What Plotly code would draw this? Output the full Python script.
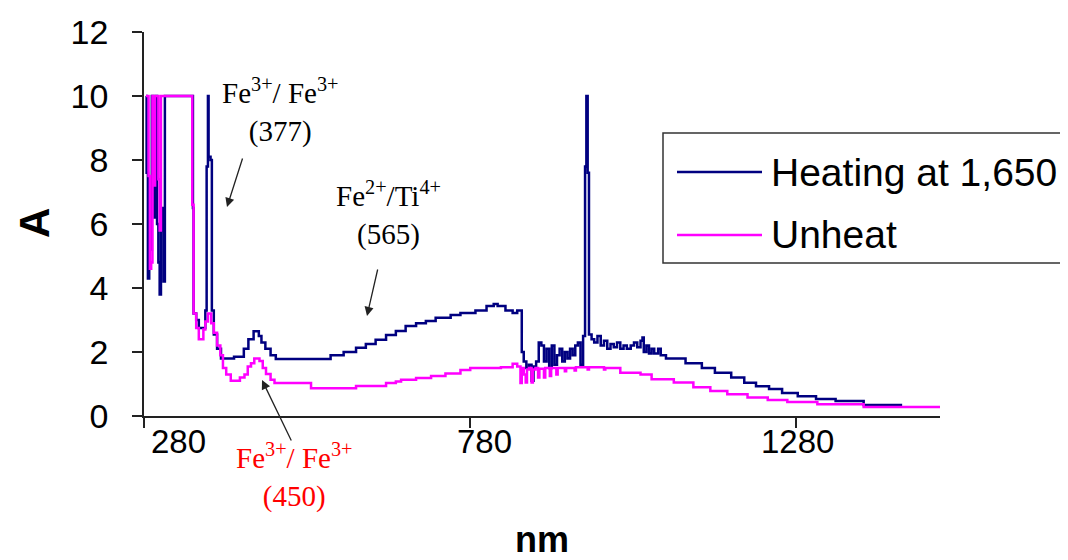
import plotly.graph_objects as go

# ---------------- data ----------------
heat_nm = [
    283, 284, 286, 288, 290, 292, 294, 296, 298, 300, 302, 304, 306, 308, 310, 312,
    355, 356, 360, 364, 374, 376, 378, 379, 382, 384, 387, 392, 398, 418, 433, 440,
    448, 456, 460, 466, 474, 482, 566, 586, 605, 620, 635, 651, 666, 681, 697, 712,
    727, 750, 765, 788, 805, 816, 822, 834, 845, 852, 859, 862, 866, 870, 874, 877,
    881, 885, 889, 893, 897, 901, 905, 909, 913, 917, 921, 925, 929, 933, 937, 941,
    945, 949, 953, 956, 958, 960, 962, 966, 970, 975, 980, 985, 990, 995, 1000, 1005,
    1010, 1015, 1020, 1026, 1031, 1036, 1041, 1044, 1046, 1050, 1054, 1058, 1062, 1068, 1072, 1080,
    1110, 1135, 1155, 1180, 1200, 1218, 1238, 1258, 1282, 1310, 1340, 1383, 1442]
heat_abs = [
    10, 7.6, 4.3, 7.0, 5.2, 10, 7.5, 6.2, 10, 6.0, 4.8, 3.8, 5.8, 6.5, 4.2, 10,
    6.5, 3.2, 3.0, 2.75, 3.3, 7.8, 10, 8.1, 8.0, 3.3, 2.55, 2.1, 1.8, 1.85, 2.1, 2.4,
    2.65, 2.5, 2.3, 2.1, 1.9, 1.78, 1.9, 2.0, 2.13, 2.25, 2.38, 2.53, 2.66, 2.81, 2.9, 2.97,
    3.07, 3.16, 3.22, 3.3, 3.44, 3.5, 3.44, 3.3, 3.22, 3.3, 2.0, 1.7, 1.5, 1.6, 1.1, 1.55,
    1.7, 2.3, 2.2, 1.7, 2.1, 1.5, 2.2, 1.6, 1.9, 2.1, 1.7, 2.0, 1.8, 2.1, 1.9, 2.2,
    2.3, 1.6, 2.5, 7.8, 10, 7.6, 2.55, 2.4, 2.3, 2.5, 2.2, 2.35, 2.1, 2.25, 2.15, 2.3,
    2.1, 2.2, 2.1, 2.2, 2.3, 2.15, 2.35, 2.45, 2.0, 2.2, 1.95, 2.1, 1.95, 2.1, 1.9, 1.8,
    1.65, 1.5, 1.35, 1.2, 1.04, 0.93, 0.84, 0.72, 0.62, 0.53, 0.47, 0.34, 0.34]

unheat_nm = [
    283, 287, 289, 291, 293, 295, 297, 302, 304, 306, 354, 356, 360, 364, 371, 374,
    378, 383, 387, 392, 397, 401, 406, 413, 427, 434, 439, 444, 449, 457, 462, 467,
    474, 480, 536, 605, 651, 666, 674, 697, 720, 742, 765, 780, 827, 845, 852, 857,
    859, 862, 865, 867, 870, 874, 876, 880, 884, 886, 893, 895, 902, 904, 912, 914,
    925, 927, 940, 942, 960, 962, 985, 987, 1010, 1041, 1058, 1092, 1122, 1148, 1174, 1205,
    1236, 1266, 1312, 1383, 1500]
unheat_abs = [
    10, 7.5, 4.6, 4.8, 10, 7.2, 10, 7.4, 5.8, 10, 6.6, 3.2, 2.75, 2.4, 2.7, 2.95,
    3.2, 2.9, 2.6, 2.2, 1.9, 1.5, 1.3, 1.1, 1.2, 1.3, 1.55, 1.65, 1.8, 1.72, 1.5, 1.31,
    1.13, 1.03, 0.87, 0.94, 1.03, 1.08, 1.13, 1.19, 1.25, 1.33, 1.44, 1.5, 1.52, 1.63, 1.55, 1.03,
    1.5, 1.3, 1.05, 1.45, 1.5, 1.05, 1.45, 1.5, 1.2, 1.48, 1.2, 1.5, 1.25, 1.5, 1.3, 1.5,
    1.4, 1.5, 1.42, 1.52, 1.45, 1.52, 1.45, 1.5, 1.35, 1.3, 1.15, 1.05, 0.9, 0.78, 0.68, 0.58,
    0.5, 0.44, 0.37, 0.28, 0.28]

series_names = ["Heating at 1,650", "Unheat"]
series_colors = ["#000080", "#FF00FF"]

x_tick_vals = [280, 780, 1280]
x_tick_text = ["280", "780", "1280"]
y_tick_vals = [0, 2, 4, 6, 8, 10, 12]

assert len(heat_nm) == len(heat_abs)
assert len(unheat_nm) == len(unheat_abs)

# ---------------- layout geometry (window pixel coords) ----------------
PAGE_OFF = 8                      # default body margin of the html page
WIN_W, WIN_H = 1068, 560
W, H = WIN_W - PAGE_OFF, WIN_H - PAGE_OFF
PL, PR, PT, PB = 144, 940, 32, 416   # plot area edges in window pixels
L, T = PL - PAGE_OFF, PT - PAGE_OFF
R, B = W - (PR - PAGE_OFF), H - (PB - PAGE_OFF)
X_RANGE = [280, 1500]
Y_RANGE = [0, 12]
plot_w = PR - PL
plot_h = PB - PT


def px_to_x(px):
    return X_RANGE[0] + (px - PL) / plot_w * (X_RANGE[1] - X_RANGE[0])


def py_to_y(py):
    return Y_RANGE[1] - (py - PT) / plot_h * (Y_RANGE[1] - Y_RANGE[0])


def ppx(px):
    return (px - PL) / plot_w


def ppy(py):
    return (PB - py) / plot_h


SANS = "Liberation Sans, Arial, sans-serif"
SERIF = "Liberation Serif, Times New Roman, serif"

fig = go.Figure()
fig.add_trace(go.Scatter(x=heat_nm, y=heat_abs, mode="lines", name=series_names[0],
                         line=dict(color=series_colors[0], width=2.5, shape="hv"),
                         showlegend=False))
fig.add_trace(go.Scatter(x=unheat_nm, y=unheat_abs, mode="lines", name=series_names[1],
                         line=dict(color=series_colors[1], width=2.5, shape="hv"),
                         showlegend=False))

annotations = []
# x tick labels (offset as in the original picture)
label_px_offsets = [34, 14, 1]
for v, t, off in zip(x_tick_vals, x_tick_text, label_px_offsets):
    annotations.append(dict(x=v + off / plot_w * (X_RANGE[1] - X_RANGE[0]), y=ppy(441),
                            xref="x", yref="paper", text=t, showarrow=False,
                            font=dict(family=SANS, size=33, color="black"),
                            xanchor="center", yanchor="middle"))

# y axis title
annotations.append(dict(x=ppx(34), y=ppy(223), xref="paper", yref="paper",
                        text="<b>A</b>", textangle=-90, showarrow=False,
                        xanchor="center", yanchor="middle",
                        font=dict(family=SANS, size=42, color="black")))

# peak labels
annotations += [
    dict(x=ppx(280), y=ppy(111), xref="paper", yref="paper",
         text="Fe<sup>3+</sup>/ Fe<sup>3+</sup><br>(377)", showarrow=False,
         font=dict(family=SERIF, size=29, color="black"), align="center",
         xanchor="center", yanchor="middle"),
    dict(x=ppx(388), y=ppy(213), xref="paper", yref="paper",
         text="Fe<sup>2+</sup>/Ti<sup>4+</sup><br>(565)", showarrow=False,
         font=dict(family=SERIF, size=29, color="black"), align="center",
         xanchor="center", yanchor="middle"),
    dict(x=ppx(294), y=ppy(475), xref="paper", yref="paper",
         text="Fe<sup>3+</sup>/ Fe<sup>3+</sup><br>(450)", showarrow=False,
         font=dict(family=SERIF, size=29, color="red"), align="center",
         xanchor="center", yanchor="middle"),
]
# arrows
for head, tail in [((227, 207), (243, 157)), ((367, 316), (378, 268)), ((262, 380), (292, 442))]:
    annotations.append(dict(x=px_to_x(head[0]), y=py_to_y(head[1]), xref="x", yref="y",
                            ax=px_to_x(tail[0]), ay=py_to_y(tail[1]), axref="x", ayref="y",
                            text="", showarrow=True, arrowhead=2, arrowsize=1.4,
                            arrowwidth=1.3, arrowcolor="#222222"))

# manual legend
shapes = [dict(type="rect", xref="paper", yref="paper", x0=ppx(663), x1=ppx(1064),
               y0=ppy(263), y1=ppy(133), line=dict(color="#333333", width=1.5),
               fillcolor="white", layer="above")]
for i, (name, col) in enumerate(zip(series_names, series_colors)):
    yy = [172, 235][i]
    shapes.append(dict(type="line", xref="paper", yref="paper", x0=ppx(677), x1=ppx(762),
                       y0=ppy(yy), y1=ppy(yy), line=dict(color=col, width=2.5), layer="above"))
    annotations.append(dict(x=ppx(769), y=ppy(yy), xref="paper", yref="paper", text=name,
                            showarrow=False, xanchor="left", yanchor="middle",
                            font=dict(family=SANS, size=39, color="black")))

fig.update_layout(
    width=W, height=H,
    margin=dict(l=L, r=R, t=T, b=B, autoexpand=False),
    paper_bgcolor="white", plot_bgcolor="white",
    shapes=shapes, annotations=annotations,
    xaxis=dict(range=X_RANGE, showgrid=False, zeroline=False, showline=True,
               linecolor="#222222", linewidth=1.5, ticks="outside", ticklen=10,
               tickwidth=1.5, tickcolor="#222222", tickvals=x_tick_vals,
               showticklabels=False,
               title=dict(text="<b>nm</b>", font=dict(family=SANS, size=36, color="black"),
                          standoff=100)),
    yaxis=dict(range=Y_RANGE, showgrid=False, zeroline=False, showline=True,
               linecolor="#222222", linewidth=1.5, ticks="outside", ticklen=10,
               tickwidth=1.5, tickcolor="#222222", tickvals=y_tick_vals,
               tickfont=dict(family=SANS, size=34, color="black"),
               ticklabelstandoff=17),
)

fig.write_html("out.html")
